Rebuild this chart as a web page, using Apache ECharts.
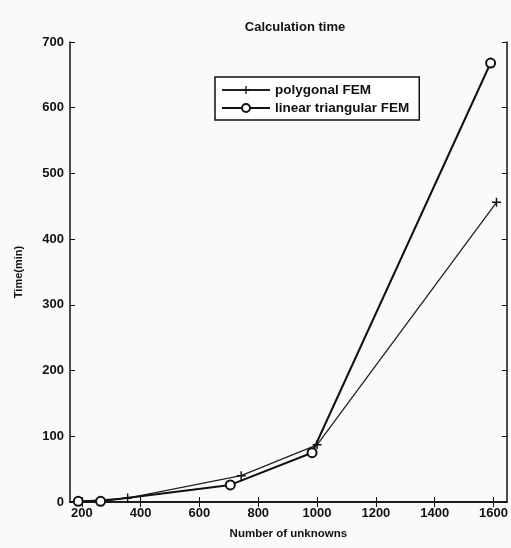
<!DOCTYPE html>
<html>
<head>
<meta charset="utf-8">
<script src="https://cdn.jsdelivr.net/npm/echarts@6/dist/echarts.min.js"></script>
<style>
  html, body { margin: 0; padding: 0; background: #fafafa; }
  #chart { width: 511px; height: 548px; }
</style>
</head>
<body>
<div id="chart"></div>
<script>
  // data
  var polyX = [188, 356, 742, 1000, 1610];
  var polyY = [1, 6, 40, 87, 456];
  var triX = [188, 264, 705, 983, 1590];
  var triY = [1, 1, 26, 75, 668];
  var xTicks = [200, 400, 600, 800, 1000, 1200, 1400, 1600];

  var fontFam = "'Liberation Sans Narrow', 'Liberation Sans', Arial, sans-serif";
  var plusPath = 'path://M4.2,0H5.8V4.2H10V5.8H5.8V10H4.2V5.8H0V4.2H4.2Z';

  function pairs(xs, ys) {
    return xs.map(function (x, i) { return [x, ys[i]]; });
  }

  var chart = echarts.init(document.getElementById('chart'));
  var xBase = {
    type: 'value', min: 160, max: 1645,
    axisLine: { lineStyle: { color: '#111', width: 1.5 } },
    axisTick: { inside: true, length: 5, customValues: xTicks, lineStyle: { color: '#111' } },
    splitLine: { show: false }
  };
  var yBase = {
    type: 'value', min: 0, max: 700, interval: 100,
    axisLine: { lineStyle: { color: '#111', width: 1.5 } },
    axisTick: { inside: true, length: 5, lineStyle: { color: '#111' } },
    splitLine: { show: false }
  };

  var option = {
    backgroundColor: '#fafafa',
    animation: false,
    title: {
      text: 'Calculation time',
      left: 290, top: 16, textAlign: 'center',
      textStyle: { fontFamily: fontFam, fontSize: 13, fontWeight: 'bold', color: '#111' }
    },
    grid: { left: 70, right: 3, top: 42, bottom: 46 },
    legend: {
      left: 215, top: 77, orient: 'vertical',
      padding: [6, 10, 5, 6],
      borderColor: '#111', borderWidth: 1.5,
      backgroundColor: '#fff',
      itemWidth: 48, itemHeight: 10, itemGap: 4,
      textStyle: { fontFamily: fontFam, fontSize: 13.5, fontWeight: 'bold', color: '#111' },
      data: ['polygonal FEM', 'linear triangular FEM']
    },
    xAxis: [
      Object.assign({}, xBase, {
        position: 'bottom',
        name: 'Number of unknowns', nameLocation: 'middle', nameGap: 26,
        nameTextStyle: { fontFamily: fontFam, fontSize: 11.5, fontWeight: 'bold', color: '#111' },
        axisLabel: {
          customValues: xTicks, margin: 5,
          formatter: function (v) { return String(v); },
          fontFamily: fontFam, fontSize: 13, fontWeight: 'bold', color: '#111'
        }
      }),
      Object.assign({}, xBase, { position: 'top', axisLabel: { show: false } })
    ],
    yAxis: [
      Object.assign({}, yBase, {
        position: 'left',
        name: 'Time(min)', nameLocation: 'middle', nameGap: 46,
        nameTextStyle: { fontFamily: fontFam, fontSize: 11, fontWeight: 'bold', color: '#111' },
        axisLabel: { margin: 6, fontFamily: fontFam, fontSize: 13, fontWeight: 'bold', color: '#111' }
      }),
      Object.assign({}, yBase, { position: 'right', axisLabel: { show: false } })
    ],
    series: [
      {
        name: 'polygonal FEM', type: 'line',
        data: pairs(polyX, polyY),
        symbol: plusPath, symbolSize: 9,
        lineStyle: { color: '#222', width: 1.3 },
        itemStyle: { color: '#111' }
      },
      {
        name: 'linear triangular FEM', type: 'line',
        data: pairs(triX, triY),
        symbol: 'emptyCircle', symbolSize: 9,
        lineStyle: { color: '#111', width: 2 },
        itemStyle: { color: '#111', borderWidth: 1.6 }
      }
    ]
  };
  chart.setOption(option);
</script>
</body>
</html>
